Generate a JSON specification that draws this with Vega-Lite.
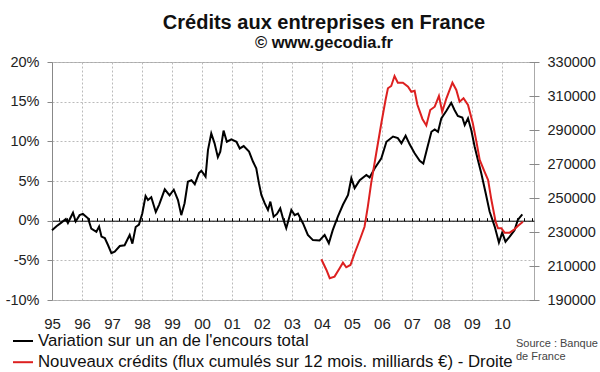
{
  "$schema": "https://vega.github.io/schema/vega-lite/v6.json",
  "autosize": {"type": "none"},
  "width": 482,
  "height": 238,
  "padding": {"left": 52, "top": 62, "right": 66, "bottom": 72},
  "background": "white",
  "title": {
    "text": "Crédits aux entreprises en France",
    "subtitle": "© www.gecodia.fr",
    "anchor": "middle",
    "frame": "group",
    "dx": 31,
    "offset": 3,
    "font": "Liberation Sans",
    "fontSize": 20,
    "fontWeight": "bold",
    "color": "#111",
    "subtitleFont": "Liberation Sans",
    "subtitleFontSize": 16.5,
    "subtitleFontWeight": "bold",
    "subtitleColor": "#111",
    "subtitlePadding": 2
  },
  "config": {
    "view": {"stroke": "#aaa", "strokeWidth": 1},
    "font": "Liberation Sans"
  },
  "datasets": {
    "variation": [
      {"t": 1995.00, "pct": -1.2}, {"t": 1995.15, "pct": -0.7}, {"t": 1995.31, "pct": -0.25}, {"t": 1995.46, "pct": 0.2},
      {"t": 1995.53, "pct": -0.3}, {"t": 1995.70, "pct": 1.0}, {"t": 1995.79, "pct": -0.1}, {"t": 1995.92, "pct": 0.7},
      {"t": 1996.03, "pct": 0.85}, {"t": 1996.20, "pct": 0.3}, {"t": 1996.31, "pct": -1.0}, {"t": 1996.48, "pct": -1.4},
      {"t": 1996.57, "pct": -0.75}, {"t": 1996.65, "pct": -2.0}, {"t": 1996.76, "pct": -2.2}, {"t": 1996.87, "pct": -3.1},
      {"t": 1996.98, "pct": -4.1}, {"t": 1997.09, "pct": -3.9}, {"t": 1997.26, "pct": -3.2}, {"t": 1997.42, "pct": -3.1},
      {"t": 1997.59, "pct": -1.8}, {"t": 1997.68, "pct": -2.9}, {"t": 1997.79, "pct": -0.8}, {"t": 1997.90, "pct": -0.5},
      {"t": 1998.01, "pct": 0.9}, {"t": 1998.12, "pct": 3.1}, {"t": 1998.20, "pct": 2.6}, {"t": 1998.31, "pct": 2.95},
      {"t": 1998.46, "pct": 1.1}, {"t": 1998.57, "pct": 2.0}, {"t": 1998.76, "pct": 3.95}, {"t": 1998.92, "pct": 3.2},
      {"t": 1999.06, "pct": 3.9}, {"t": 1999.20, "pct": 2.6}, {"t": 1999.31, "pct": 0.7}, {"t": 1999.42, "pct": 2.2},
      {"t": 1999.53, "pct": 4.9}, {"t": 1999.65, "pct": 5.1}, {"t": 1999.76, "pct": 4.6}, {"t": 1999.90, "pct": 6.0},
      {"t": 1999.98, "pct": 6.3}, {"t": 2000.12, "pct": 5.55}, {"t": 2000.20, "pct": 8.9}, {"t": 2000.31, "pct": 11.0},
      {"t": 2000.42, "pct": 9.75}, {"t": 2000.53, "pct": 8.0}, {"t": 2000.61, "pct": 8.7}, {"t": 2000.72, "pct": 11.35},
      {"t": 2000.83, "pct": 9.95}, {"t": 2000.98, "pct": 10.25}, {"t": 2001.15, "pct": 9.95}, {"t": 2001.26, "pct": 9.1},
      {"t": 2001.39, "pct": 9.4}, {"t": 2001.57, "pct": 8.7}, {"t": 2001.70, "pct": 7.45}, {"t": 2001.81, "pct": 6.6},
      {"t": 2001.90, "pct": 4.7}, {"t": 2001.98, "pct": 3.25}, {"t": 2002.09, "pct": 2.2}, {"t": 2002.20, "pct": 1.35},
      {"t": 2002.28, "pct": 2.4}, {"t": 2002.39, "pct": 0.5}, {"t": 2002.50, "pct": 0.85}, {"t": 2002.61, "pct": 1.55},
      {"t": 2002.70, "pct": 0.3}, {"t": 2002.81, "pct": -0.95}, {"t": 2002.98, "pct": 1.35}, {"t": 2003.09, "pct": 0.7},
      {"t": 2003.20, "pct": 0.9}, {"t": 2003.37, "pct": -0.35}, {"t": 2003.53, "pct": -1.8}, {"t": 2003.70, "pct": -2.45},
      {"t": 2003.92, "pct": -2.5}, {"t": 2004.09, "pct": -1.8}, {"t": 2004.23, "pct": -2.85}, {"t": 2004.36, "pct": -1.2},
      {"t": 2004.53, "pct": 0.5}, {"t": 2004.70, "pct": 2.0}, {"t": 2004.87, "pct": 3.25}, {"t": 2004.98, "pct": 5.35},
      {"t": 2005.09, "pct": 4.1}, {"t": 2005.26, "pct": 5.1}, {"t": 2005.48, "pct": 5.75}, {"t": 2005.59, "pct": 5.45},
      {"t": 2005.76, "pct": 6.6}, {"t": 2005.98, "pct": 7.85}, {"t": 2006.15, "pct": 9.95}, {"t": 2006.37, "pct": 10.6},
      {"t": 2006.53, "pct": 10.4}, {"t": 2006.65, "pct": 9.75}, {"t": 2006.79, "pct": 10.7}, {"t": 2006.92, "pct": 9.65},
      {"t": 2007.09, "pct": 8.5}, {"t": 2007.26, "pct": 7.55}, {"t": 2007.38, "pct": 7.2}, {"t": 2007.50, "pct": 9.0},
      {"t": 2007.65, "pct": 11.2}, {"t": 2007.76, "pct": 11.5}, {"t": 2007.87, "pct": 11.2}, {"t": 2007.98, "pct": 12.9},
      {"t": 2008.15, "pct": 13.85}, {"t": 2008.31, "pct": 14.85}, {"t": 2008.42, "pct": 13.95}, {"t": 2008.53, "pct": 13.2},
      {"t": 2008.68, "pct": 13.0}, {"t": 2008.76, "pct": 12.05}, {"t": 2008.87, "pct": 12.9}, {"t": 2008.98, "pct": 11.4},
      {"t": 2009.09, "pct": 9.35}, {"t": 2009.20, "pct": 7.65}, {"t": 2009.31, "pct": 6.0}, {"t": 2009.46, "pct": 3.45},
      {"t": 2009.59, "pct": 1.15}, {"t": 2009.76, "pct": -0.75}, {"t": 2009.90, "pct": -2.75}, {"t": 2010.01, "pct": -1.5},
      {"t": 2010.12, "pct": -2.65}, {"t": 2010.26, "pct": -2.0}, {"t": 2010.42, "pct": -1.2}, {"t": 2010.53, "pct": 0.1},
      {"t": 2010.68, "pct": 0.8}
    ],
    "nouveaux": [
      {"t": 2003.98, "val": 214000}, {"t": 2004.15, "val": 207650}, {"t": 2004.26, "val": 202800}, {"t": 2004.42, "val": 203750},
      {"t": 2004.59, "val": 208650}, {"t": 2004.70, "val": 211950}, {"t": 2004.81, "val": 209250}, {"t": 2004.95, "val": 210600},
      {"t": 2005.09, "val": 217500}, {"t": 2005.26, "val": 225300}, {"t": 2005.42, "val": 233100}, {"t": 2005.53, "val": 244900},
      {"t": 2005.64, "val": 258650}, {"t": 2005.81, "val": 276300}, {"t": 2005.98, "val": 293950}, {"t": 2006.12, "val": 307650},
      {"t": 2006.20, "val": 314550}, {"t": 2006.31, "val": 315900}, {"t": 2006.42, "val": 321750}, {"t": 2006.53, "val": 317800},
      {"t": 2006.70, "val": 317800}, {"t": 2006.87, "val": 315450}, {"t": 2006.98, "val": 312500}, {"t": 2007.09, "val": 313100},
      {"t": 2007.18, "val": 305000}, {"t": 2007.35, "val": 296500}, {"t": 2007.48, "val": 292650}, {"t": 2007.61, "val": 301750},
      {"t": 2007.76, "val": 303700}, {"t": 2007.90, "val": 310000}, {"t": 2008.01, "val": 300750}, {"t": 2008.15, "val": 308650},
      {"t": 2008.35, "val": 317800}, {"t": 2008.48, "val": 313550}, {"t": 2008.59, "val": 306650}, {"t": 2008.72, "val": 308650},
      {"t": 2008.87, "val": 304700}, {"t": 2009.03, "val": 293950}, {"t": 2009.15, "val": 283150}, {"t": 2009.26, "val": 272350},
      {"t": 2009.42, "val": 265500}, {"t": 2009.54, "val": 260600}, {"t": 2009.65, "val": 248800}, {"t": 2009.79, "val": 236050},
      {"t": 2009.87, "val": 232200}, {"t": 2009.98, "val": 232200}, {"t": 2010.09, "val": 229600}, {"t": 2010.26, "val": 229600},
      {"t": 2010.42, "val": 231600}, {"t": 2010.53, "val": 233550}, {"t": 2010.70, "val": 236050}
    ]
  },
  "layer": [
    {
      "data": {"name": "variation"},
      "mark": {"type": "line", "strokeWidth": 2},
      "encoding": {
        "x": {
          "field": "t", "type": "quantitative",
          "scale": {"domain": [1995, 2011.07], "nice": false, "zero": false},
          "axis": {
            "orient": "bottom",
            "title": null,
            "values": [1995, 1996, 1997, 1998, 1999, 2000, 2001, 2002, 2003, 2004, 2005, 2006, 2007, 2008, 2009, 2010],
            "labelExpr": "substring(toString(datum.value), 2)",
            "labelFlush": false,
            "grid": true, "gridDash": [2, 2], "gridColor": "#bbb",
            "domain": false, "ticks": false,
            "labelPadding": 16, "labelFontSize": 15, "labelColor": "#222", "labelFont": "Liberation Sans"
          }
        },
        "y": {
          "field": "pct", "type": "quantitative",
          "scale": {"domain": [-10, 20], "nice": false, "zero": false},
          "axis": {
            "orient": "left",
            "title": null,
            "values": [-10, -5, 0, 5, 10, 15, 20],
            "labelExpr": "datum.value + '%'",
            "grid": true, "gridDash": [2, 2], "gridColor": "#bbb",
            "domainColor": "#888", "tickColor": "#888", "tickSize": 5,
            "labelPadding": 8, "labelFontSize": 14.5, "labelColor": "#222", "labelFont": "Liberation Sans"
          }
        },
        "color": {
          "datum": "Variation sur un an de l'encours total",
          "type": "nominal",
          "scale": {
            "domain": ["Variation sur un an de l'encours total", "Nouveaux crédits (flux cumulés sur 12 mois. milliards €) - Droite"],
            "range": ["#000000", "#dd2020"]
          },
          "legend": {
            "orient": "none",
            "legendX": -40,
            "legendY": 268,
            "direction": "vertical",
            "title": ["Source : Banque", "de France"],
            "titleOrient": "right",
            "titleAnchor": "middle",
            "titleFont": "Liberation Sans",
            "titleFontSize": 11,
            "titleFontWeight": "normal",
            "titleColor": "#444",
            "titleLineHeight": 13,
            "titlePadding": 3,
            "labelFont": "Liberation Sans",
            "labelFontSize": 16.8,
            "labelColor": "#111",
            "labelLimit": 700,
            "labelOffset": 4,
            "symbolType": "stroke",
            "symbolSize": 400,
            "symbolStrokeWidth": 2,
            "rowPadding": 1.2,
            "padding": 0
          }
        }
      }
    },
    {
      "data": {"name": "nouveaux"},
      "mark": {"type": "line", "strokeWidth": 2},
      "encoding": {
        "x": {
          "field": "t", "type": "quantitative",
          "axis": {
            "orient": "bottom",
            "title": null,
            "offset": -79.3,
            "values": [1995, 1995.25, 1995.5, 1995.75, 1996, 1996.25, 1996.5, 1996.75, 1997, 1997.25, 1997.5, 1997.75, 1998, 1998.25, 1998.5, 1998.75, 1999, 1999.25, 1999.5, 1999.75, 2000, 2000.25, 2000.5, 2000.75, 2001, 2001.25, 2001.5, 2001.75, 2002, 2002.25, 2002.5, 2002.75, 2003, 2003.25, 2003.5, 2003.75, 2004, 2004.25, 2004.5, 2004.75, 2005, 2005.25, 2005.5, 2005.75, 2006, 2006.25, 2006.5, 2006.75, 2007, 2007.25, 2007.5, 2007.75, 2008, 2008.25, 2008.5, 2008.75, 2009, 2009.25, 2009.5, 2009.75, 2010, 2010.25, 2010.5, 2010.75, 2011],
            "labels": false,
            "grid": false,
            "domainColor": "#000", "domainWidth": 1,
            "tickColor": "#000", "tickSize": -3, "tickWidth": 1
          }
        },
        "y": {
          "field": "val", "type": "quantitative",
          "scale": {"domain": [190000, 330000], "nice": false, "zero": false},
          "axis": {
            "orient": "right",
            "title": null,
            "values": [190000, 210000, 230000, 250000, 270000, 290000, 310000, 330000],
            "format": "d",
            "grid": false,
            "domain": false,
            "offset": -5,
            "tickSize": 10, "tickColor": "#888",
            "labelPadding": 8, "labelFontSize": 14.5, "labelColor": "#222", "labelFont": "Liberation Sans"
          }
        },
        "color": {
          "datum": "Nouveaux crédits (flux cumulés sur 12 mois. milliards €) - Droite",
          "type": "nominal"
        }
      }
    }
  ],
  "resolve": {
    "scale": {"y": "independent"},
    "axis": {"x": "independent", "y": "independent"}
  }
}
